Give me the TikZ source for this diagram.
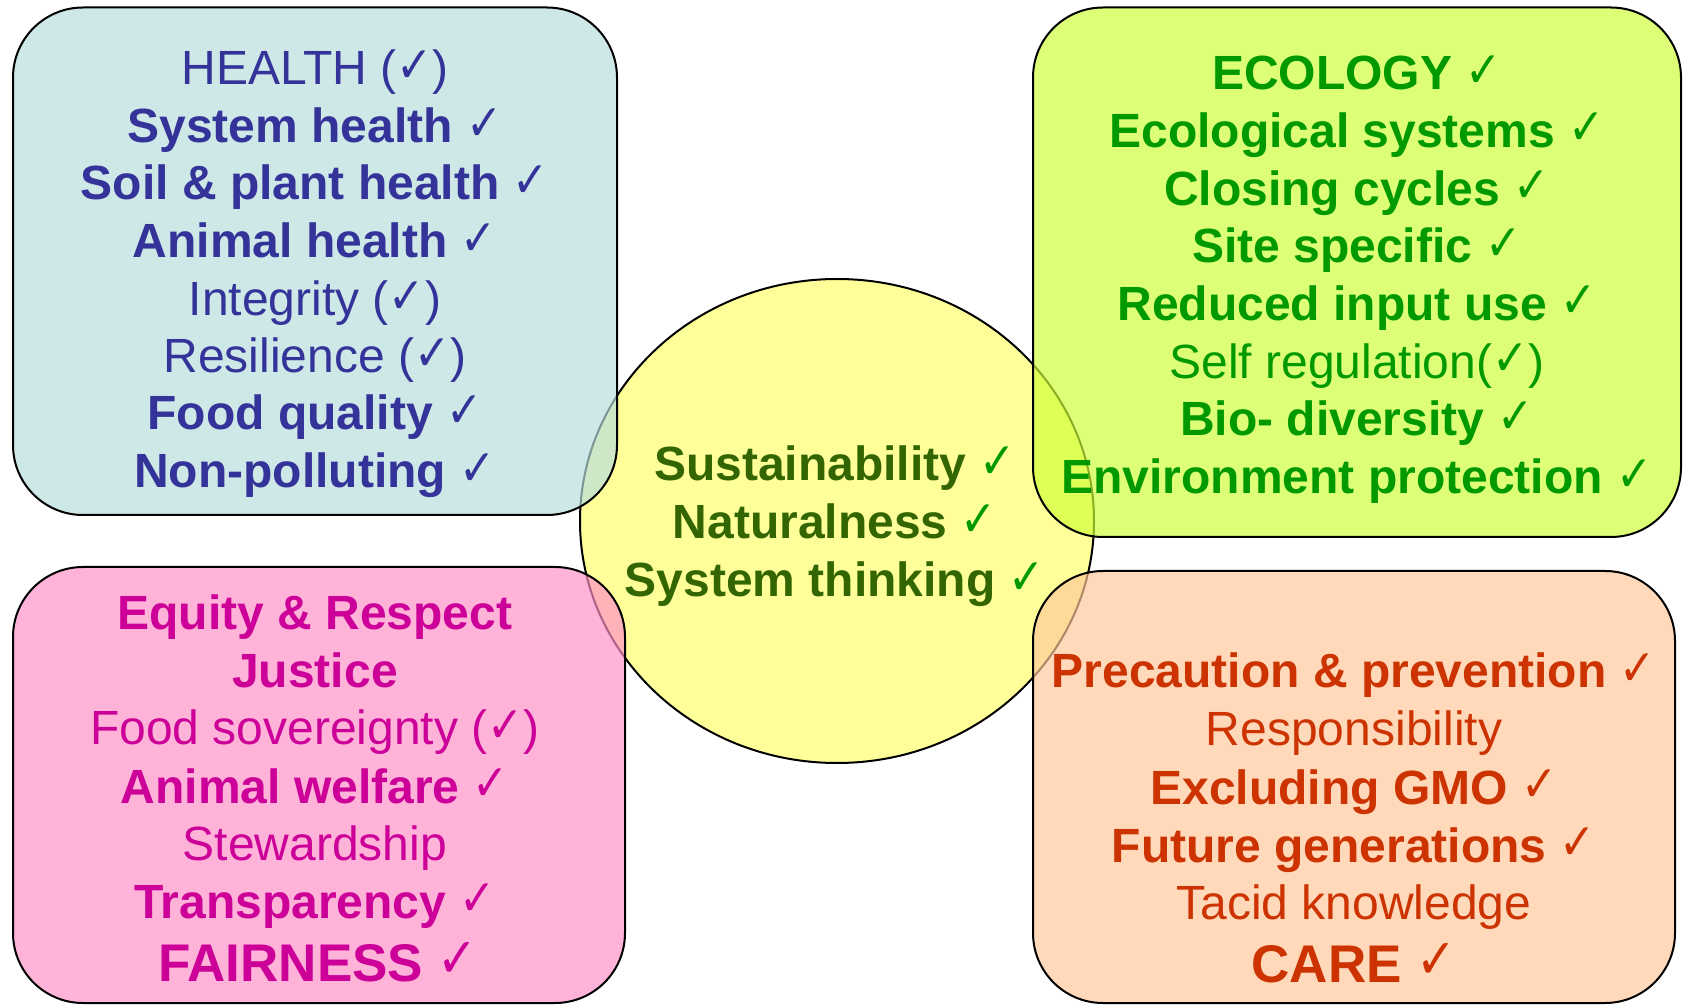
\documentclass[tikz,border=0pt]{standalone}
\usepackage{graphicx}
\usepackage{fontspec}
\setmainfont{Liberation Sans}
\newfontfamily\chkfont{DejaVu Sans}
\newcommand\ck{{\normalfont\chkfont\raisebox{0.06em}{\scalebox{0.9}[1.05]{✓}}}}

\definecolor{healthtext}{HTML}{333399}
\definecolor{ecotext}{HTML}{009900}
\definecolor{fairtext}{HTML}{CC0099}
\definecolor{caretext}{HTML}{CC3300}
\definecolor{coretext}{HTML}{336600}
\definecolor{corecheck}{HTML}{009900}
\definecolor{corefill}{HTML}{FFFF99}
\definecolor{healthfill}{RGB}{184,220,221}
\definecolor{ecofill}{RGB}{205,255,55}
\definecolor{fairfill}{RGB}{255,143,199}
\definecolor{carefill}{RGB}{255,200,152}

\begin{document}
\begin{tikzpicture}[x=0.5pt,y=-0.5pt,
  panel/.style={draw=black, line width=1pt, rounded corners=35pt, fill opacity=0.68},
  txt/.style={anchor=base, inner sep=0pt, font=\fontsize{24}{28}\selectfont},
  bigtxt/.style={anchor=base, inner sep=0pt, font=\fontsize{26.5}{30}\selectfont\bfseries}]
\useasboundingbox (0,0) rectangle (1683,1005);
\fill[white] (0,0) rectangle (1683,1005);

% central principle
\draw[line width=1pt, fill=corefill] (837,521) ellipse [x radius=257, y radius=242];

% four principle panels, laid over the centre
\path[panel, fill=healthfill] (13,7.5) rectangle (617,515);
\path[panel, fill=ecofill] (1033,7.5) rectangle (1681,537);
\path[panel, fill=fairfill] (13,567) rectangle (625,1003);
\path[panel, fill=carefill] (1033,571) rectangle (1675,1003);

% health
\begin{scope}[txt, text=healthtext]
\node (h1) at (315,85)  {HEALTH (\ck)};
\node (h2) at (315,143) {\bfseries System health \ck};
\node (h3) at (315,200) {\bfseries Soil \& plant health \ck};
\node (h4) at (315,258) {\bfseries Animal health \ck};
\node (h5) at (315,316) {Integrity (\ck)};
\node (h6) at (315,373) {Resilience (\ck)};
\node (h7) at (315,430) {\bfseries Food quality \ck};
\node (h8) at (315,488) {\bfseries Non-polluting \ck};
\end{scope}

% ecology
\begin{scope}[txt, text=ecotext]
\node (e1) at (1357,90)    {\bfseries ECOLOGY \ck};
\node (e2) at (1357,147.7) {\bfseries Ecological systems \ck};
\node (e3) at (1357,205.4) {\bfseries Closing cycles \ck};
\node (e4) at (1357,263)   {\bfseries Site specific \ck};
\node (e5) at (1357,320.8) {\bfseries Reduced input use \ck};
\node (e6) at (1357,378.5) {Self regulation(\ck)};
\node (e7) at (1357,436)   {\bfseries Bio- diversity \ck};
\node (e8) at (1357,494)   {\bfseries Environment protection \ck};
\end{scope}

% fairness
\begin{scope}[txt, text=fairtext]
\node (f1) at (315,630) {\bfseries Equity \& Respect};
\node (f2) at (315,688) {\bfseries Justice};
\node (f3) at (315,745) {Food sovereignty (\ck)};
\node (f4) at (315,803) {\bfseries Animal welfare \ck};
\node (f5) at (315,860) {Stewardship};
\node (f6) at (315,918) {\bfseries Transparency \ck};
\node[bigtxt] (f7) at (318,981) {FAIRNESS \ck};
\end{scope}

% care
\begin{scope}[txt, text=caretext]
\node (c1) at (1354,688) {\bfseries Precaution \& prevention \ck};
\node (c2) at (1354,746) {Responsibility};
\node (c3) at (1354,804) {\bfseries Excluding GMO \ck};
\node (c4) at (1354,862) {\bfseries Future generations \ck};
\node (c5) at (1354,919) {Tacid knowledge};
\node[bigtxt] (c6) at (1354,982) {CARE \ck};
\end{scope}

% centre
\begin{scope}[txt, text=coretext]
\node (s1) at (835,481) {\bfseries Sustainability \textcolor{corecheck}{\ck}};
\node (s2) at (835,539) {\bfseries Naturalness \textcolor{corecheck}{\ck}};
\node (s3) at (835,597) {\bfseries System thinking \textcolor{corecheck}{\ck}};
\end{scope}
\end{tikzpicture}
\end{document}
